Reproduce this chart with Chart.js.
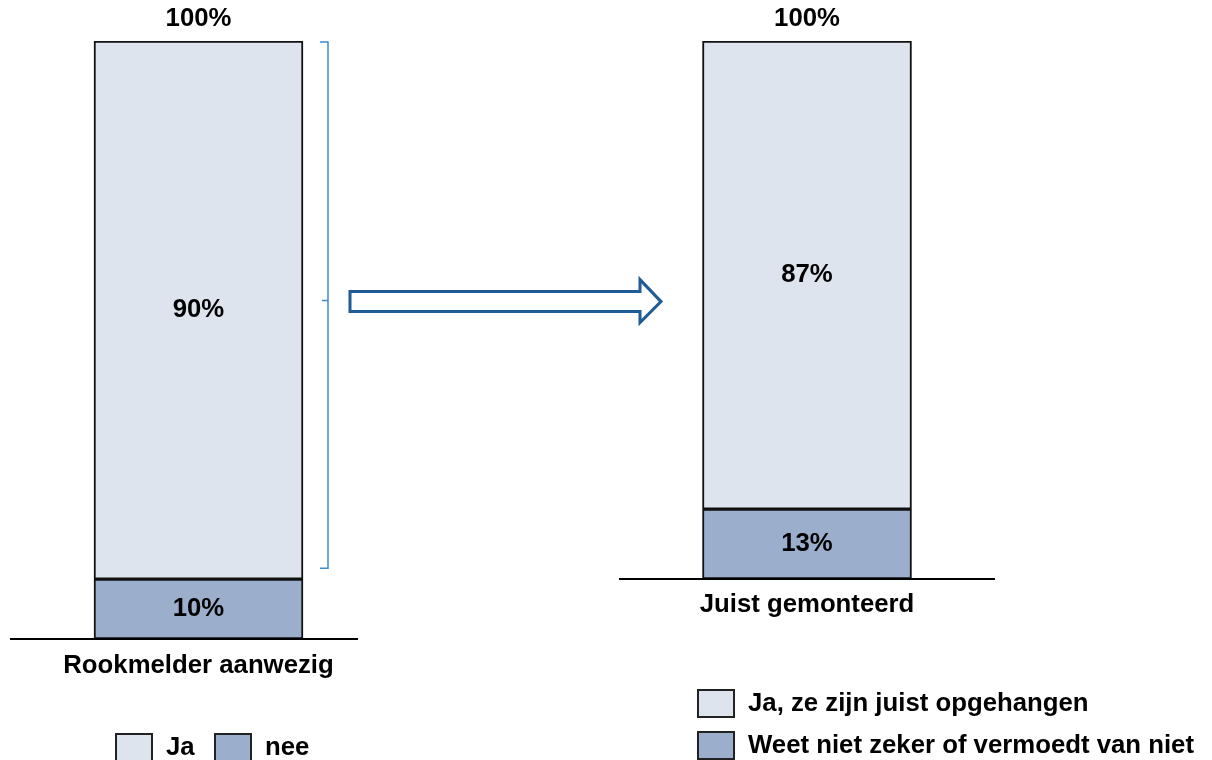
<!DOCTYPE html>
<html>
<head>
<meta charset="utf-8">
<script src="https://cdn.jsdelivr.net/npm/chart.js@4.4.0/dist/chart.umd.min.js"></script>
<style>
  html, body { margin: 0; padding: 0; background: #ffffff; }
  #wrap { position: relative; width: 1212px; height: 760px; overflow: hidden; }
  #wrap canvas { position: absolute; left: 0; top: 0; }
</style>
</head>
<body>
<div id="wrap">
  <canvas id="chartLinks" width="1212" height="760"></canvas>
  <canvas id="chartRechts" width="1212" height="760"></canvas>
</div>
<script>
// data
const categorieLinks = ['Rookmelder aanwezig'];
const jaLinks = [90];
const neeLinks = [10];
const legendaLinks = ['Ja', 'nee'];

const categorieRechts = ['Juist gemonteerd'];
const juistRechts = [87];
const weetNietRechts = [13];
const legendaRechts = ['Ja, ze zijn juist opgehangen', 'Weet niet zeker of vermoedt van niet'];

const totaalLabel = '100%';

const kleurLicht = '#dee4ee';
const kleurDonker = '#9bafcd';
const FONT = 'bold 25px "Liberation Sans", Arial, sans-serif';

function tekst(ctx, str, x, y, align) {
  ctx.save();
  ctx.translate(x, y);
  ctx.scale(1.03, 1);
  ctx.font = FONT;
  ctx.fillStyle = '#000';
  ctx.textAlign = align || 'center';
  ctx.textBaseline = 'middle';
  ctx.fillText(str, 0, 0);
  ctx.restore();
}

// baseline, value labels, category label, 100% label, legend
const opmaakPlugin = {
  id: 'opmaak',
  afterDatasetsDraw(chart, args, opts) {
    const ctx = chart.ctx;
    const area = chart.chartArea;
    // baseline
    ctx.save();
    ctx.strokeStyle = '#000';
    ctx.lineWidth = 2;
    ctx.beginPath();
    ctx.moveTo(area.left, area.bottom);
    ctx.lineTo(opts.lijnEind || area.right, area.bottom);
    ctx.stroke();
    ctx.restore();

    // segment labels
    chart.data.datasets.forEach((ds, i) => {
      const meta = chart.getDatasetMeta(i);
      meta.data.forEach((bar, j) => {
        tekst(ctx, ds.data[j] + '%', bar.x, (bar.y + bar.base) / 2);
      });
    });

    const bar = chart.getDatasetMeta(0).data[0];
    const top = chart.scales.y.getPixelForValue(100);
    tekst(ctx, totaalLabel, bar.x, top - 22);
    tekst(ctx, chart.data.labels[0], bar.x, area.bottom + opts.labelAfstand);

    // legend
    const items = chart.data.datasets.slice().reverse();
    items.forEach((ds, k) => {
      const pos = opts.legenda[k];
      ctx.save();
      ctx.fillStyle = ds.backgroundColor;
      ctx.strokeStyle = '#222';
      ctx.lineWidth = 2;
      ctx.fillRect(pos.x, pos.y, 36, 27);
      ctx.strokeRect(pos.x, pos.y, 36, 27);
      ctx.restore();
      tekst(ctx, ds.label, pos.x + 50, pos.y + 14, 'left');
    });
  }
};

// brace + arrow on the left chart
const accoladePlugin = {
  id: 'accolade',
  afterDraw(chart) {
    const ctx = chart.ctx;
    const yScale = chart.scales.y;
    const bar = chart.getDatasetMeta(1).data[0];
    const top = yScale.getPixelForValue(100);
    const bottom = yScale.getPixelForValue(neeLinks[0]) - 11;
    const mid = (top + bottom) / 2 - 4;
    const x = bar.x + bar.width / 2 + 25;
    ctx.save();
    ctx.strokeStyle = '#3d8bd4';
    ctx.lineWidth = 1.5;
    ctx.beginPath();
    ctx.moveTo(x - 8, top + 1);
    ctx.lineTo(x, top + 1);
    ctx.lineTo(x, bottom);
    ctx.lineTo(x - 8, bottom);
    ctx.moveTo(x, mid);
    ctx.lineTo(x - 6, mid);
    ctx.stroke();

    // arrow
    const ax = x + 22, ay = mid + 1;
    ctx.strokeStyle = '#1f5b96';
    ctx.fillStyle = '#ffffff';
    ctx.lineWidth = 3;
    ctx.lineJoin = 'miter';
    ctx.beginPath();
    ctx.moveTo(ax, ay - 10);
    ctx.lineTo(ax + 290, ay - 10);
    ctx.lineTo(ax + 290, ay - 22);
    ctx.lineTo(ax + 311, ay);
    ctx.lineTo(ax + 290, ay + 21);
    ctx.lineTo(ax + 290, ay + 10);
    ctx.lineTo(ax, ay + 10);
    ctx.closePath();
    ctx.fill();
    ctx.stroke();
    ctx.restore();
  }
};

function maakOpties(padding, extra) {
  return {
    responsive: false,
    animation: false,
    layout: { padding: padding },
    plugins: {
      legend: { display: false },
      tooltip: { enabled: false },
      opmaak: extra
    },
    scales: {
      x: { stacked: true, display: false },
      y: { stacked: true, display: false, min: 0, max: 100 }
    }
  };
}

const balkStijl = {
  borderColor: '#111',
  borderWidth: 2,
  borderSkipped: false,
  barThickness: 209
};

new Chart(document.getElementById('chartLinks').getContext('2d'), {
  type: 'bar',
  data: {
    labels: categorieLinks,
    datasets: [
      Object.assign({ label: legendaLinks[1], data: neeLinks, backgroundColor: kleurDonker }, balkStijl),
      Object.assign({ label: legendaLinks[0], data: jaLinks, backgroundColor: kleurLicht }, balkStijl)
    ]
  },
  options: maakOpties(
    { left: 10, right: 825, top: 41, bottom: 121 },
    { lijnEind: 358, labelAfstand: 27, legenda: [{ x: 116, y: 734 }, { x: 215, y: 734 }] }
  ),
  plugins: [opmaakPlugin, accoladePlugin]
});

new Chart(document.getElementById('chartRechts').getContext('2d'), {
  type: 'bar',
  data: {
    labels: categorieRechts,
    datasets: [
      Object.assign({ label: legendaRechts[1], data: weetNietRechts, backgroundColor: kleurDonker }, balkStijl),
      Object.assign({ label: legendaRechts[0], data: juistRechts, backgroundColor: kleurLicht }, balkStijl)
    ]
  },
  options: maakOpties(
    { left: 619, right: 217, top: 41, bottom: 181 },
    { labelAfstand: 26, legenda: [{ x: 698, y: 690 }, { x: 698, y: 732 }] }
  ),
  plugins: [opmaakPlugin]
});
</script>
</body>
</html>
